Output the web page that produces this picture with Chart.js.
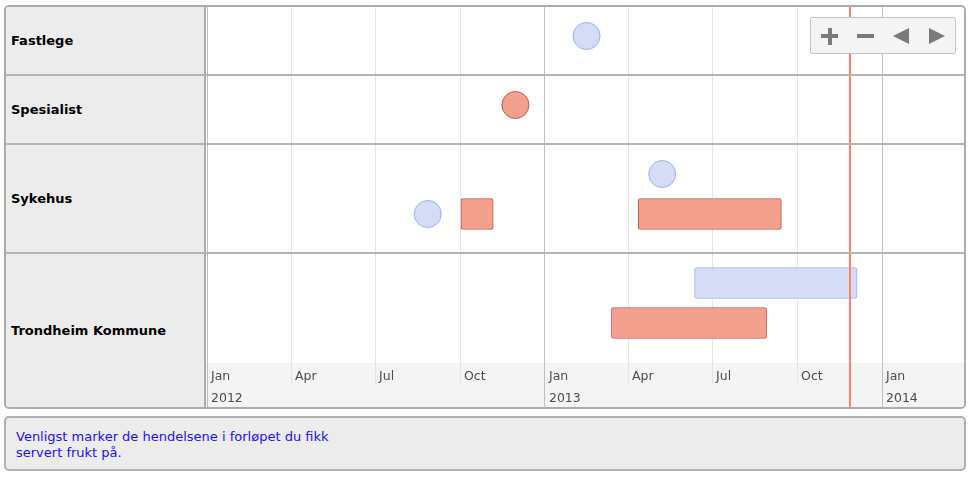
<!DOCTYPE html>
<html><head><meta charset="utf-8">
<script src="https://cdn.jsdelivr.net/npm/chart.js@4.4.1/dist/chart.umd.min.js"></script>
<style>
html,body{margin:0;padding:0;background:#fff;}
body{width:973px;height:478px;position:relative;overflow:hidden;font-family:"DejaVu Sans",Verdana,sans-serif;}
#tl{position:absolute;left:4px;top:5px;width:962px;height:404px;box-sizing:border-box;border:2px solid #acacac;border-radius:5px;background:#fff;overflow:hidden;}
#labels{position:absolute;left:0;top:0;width:198px;height:400px;background:#ececec;}
#vsep{position:absolute;left:198px;top:0;width:2px;height:400px;background:#acacac;}
#cv{position:absolute;left:200px;top:0;}
.rowline{position:absolute;left:0;width:958px;height:2px;background:#b4b4b4;z-index:2;}
.glabel{position:absolute;left:5px;font-weight:bold;font-size:13px;color:#000;line-height:16px;transform:translateY(-50%);white-space:nowrap;}
#zoom{position:absolute;left:804px;top:10px;width:146px;height:37px;box-sizing:border-box;background:#f4f4f4;border:1px solid #c4c4c4;border-radius:2px;z-index:3;}
.ic{position:absolute;background:#7a7a7a;}
.tri{position:absolute;width:0;height:0;}
#note{position:absolute;left:4px;top:416px;width:962px;height:55px;box-sizing:border-box;border:2px solid #b0b0b0;border-radius:5px;background:#ececec;padding:11px 10px 0 10px;color:#2010ff;font-size:13px;line-height:16px;}
</style>
</head><body>
<div id="tl">
  <div id="labels"></div>
  <div id="vsep"></div>
  <canvas id="cv" width="758" height="400" style="width:758px;height:400px"></canvas>
  <div id="zoom">
    <div class="ic" style="left:10px;top:16px;width:17px;height:4px"></div>
    <div class="ic" style="left:16.5px;top:9.5px;width:4px;height:17px"></div>
    <div class="ic" style="left:46px;top:16px;width:17px;height:4px"></div>
    <div class="tri" style="left:82px;top:10px;border-top:8px solid transparent;border-bottom:8px solid transparent;border-right:16px solid #7a7a7a"></div>
    <div class="tri" style="left:118px;top:10px;border-top:8px solid transparent;border-bottom:8px solid transparent;border-left:16px solid #7a7a7a"></div>
  </div>
</div>
<div id="note">Venligst marker de hendelsene i forløpet du fikk<br>servert frukt på.</div>
<script>
// ---- data ----
const groups = ['Fastlege', 'Spesialist', 'Sykehus', 'Trondheim Kommune'];
const groupLanes = [1, 1, 2, 2];

// point events (circles)
const pointGroup = [0, 1, 2, 2];
const pointLane  = [0, 0, 1, 0];
const pointDate  = ['2013-02-15', '2012-11-30', '2012-08-27', '2013-05-08'];
const pointKind  = ['blue', 'red', 'blue', 'blue'];

// range events (boxes)
const rangeGroup = [2, 2, 3, 3];
const rangeLane  = [1, 1, 0, 1];
const rangeStart = ['2012-10-02', '2013-04-12', '2013-06-12', '2013-03-14'];
const rangeEnd   = ['2012-11-06', '2013-09-14', '2013-12-05', '2013-08-29'];
const rangeKind  = ['red', 'red', 'blue', 'red'];

// axis labels
const monthLabels = ['Jan', 'Apr', 'Jul', 'Oct'];
const yearLabels  = ['2012', '2013', '2014'];
const currentTime = '2013-11-27';
const viewStart = '2011-12-30T22:00:00Z';
const viewEnd   = '2014-03-30T19:00:00Z';

// ---- layout ----
const LANE = 40, ROWPAD = 29, BAND = 44, H = 400;
const rowTop = [];
let acc = 0;
groupLanes.forEach((n, i) => { rowTop.push(acc); acc += ROWPAD + LANE * n; });
const areaH = H - BAND;
const tl = document.getElementById('tl');
const labelsDiv = document.getElementById('labels');
groups.forEach((g, i) => {
  const top = rowTop[i];
  const bottom = i < groups.length - 1 ? rowTop[i + 1] - 2 : H;
  const d = document.createElement('div');
  d.className = 'glabel';
  d.style.top = ((top + bottom) / 2) + 'px';
  d.textContent = g;
  labelsDiv.appendChild(d);
  if (i < groups.length - 1) {
    const l = document.createElement('div');
    l.className = 'rowline';
    l.style.top = (rowTop[i + 1] - 2) + 'px';
    tl.appendChild(l);
  }
});
const laneY = (g, lane) => rowTop[g] + ROWPAD + lane * LANE;
const t = s => Date.parse(s);

const COL = {
  blue: { bg: '#d5ddf6', bd: '#97b0f8' },
  red:  { bg: '#f4a08f', bd: '#c2554a' }
};

function pts(kind) {
  return pointDate.map((d, i) => ({ d, i })).filter(o => pointKind[o.i] === kind)
    .map(o => ({ x: t(o.d), y: laneY(pointGroup[o.i], pointLane[o.i]) }));
}
function rngs(kind) {
  return rangeStart.map((s, i) => ({ s, i })).filter(o => rangeKind[o.i] === kind)
    .map(o => ({ x: [t(o.s), t(rangeEnd[o.i])], y: laneY(rangeGroup[o.i], rangeLane[o.i]) }));
}

const years = yearLabels.map(Number);
const quarterTicks = [];
years.forEach(y => monthLabels.forEach((m, q) => {
  const v = Date.UTC(y, q * 3, 1);
  if (v >= t(viewStart) && v <= t(viewEnd)) quarterTicks.push(v);
}));
const yearTicks = years.map(y => Date.UTC(y, 0, 1));
const isJan = v => new Date(v).getUTCMonth() === 0;

const tickFont = { family: 'DejaVu Sans', size: 12.5 };

const bandPlugin = {
  id: 'band',
  beforeDraw(chart) {
    const c = chart.ctx, a = chart.chartArea;
    c.save();
    c.fillStyle = '#f4f4f4';
    c.fillRect(a.left, a.bottom, a.right - a.left, chart.height - a.bottom);
    c.restore();
  }
};
const nowPlugin = {
  id: 'now',
  afterDatasetsDraw(chart) {
    const c = chart.ctx;
    const x = Math.round(chart.scales.x.getPixelForValue(t(currentTime)));
    c.save();
    c.fillStyle = '#ff7f6e';
    c.fillRect(x - 1, 0, 2, chart.height);
    c.restore();
  }
};

const barCommon = { type: 'bar', indexAxis: 'y', borderWidth: 1, borderRadius: 2, borderSkipped: false, barThickness: 31, grouped: false };
const ptCommon = { type: 'scatter', pointRadius: 13.5, pointHoverRadius: 13.5, borderWidth: 1 };

new Chart(document.getElementById('cv'), {
  type: 'scatter',
  data: {
    datasets: [
      Object.assign({ data: rngs('blue'), backgroundColor: COL.blue.bg, borderColor: COL.blue.bd }, barCommon),
      Object.assign({ data: rngs('red'), backgroundColor: COL.red.bg, borderColor: COL.red.bd }, barCommon),
      Object.assign({ data: pts('blue'), backgroundColor: COL.blue.bg, borderColor: COL.blue.bd }, ptCommon),
      Object.assign({ data: pts('red'), backgroundColor: COL.red.bg, borderColor: COL.red.bd }, ptCommon)
    ]
  },
  options: {
    responsive: false, animation: false, events: [],
    layout: { padding: 0, autoPadding: false },
    plugins: { legend: { display: false }, tooltip: { enabled: false } },
    scales: {
      x: {
        type: 'linear', position: 'bottom', min: t(viewStart), max: t(viewEnd), offset: false,
        border: { display: false },
        grid: {
          offset: false, drawOnChartArea: true, drawTicks: true, tickLength: 22, lineWidth: 1,
          color: c => (c.tick && isJan(c.tick.value)) ? '#bfbfbf' : '#e5e5e5',
          tickColor: c => (c.tick && isJan(c.tick.value)) ? '#bfbfbf' : '#e5e5e5'
        },
        ticks: {
          align: 'start', labelOffset: 4, padding: -15.5, autoSkip: false, maxRotation: 0, minRotation: 0,
          color: '#4d4d4d', font: tickFont,
          callback: v => monthLabels[new Date(v).getUTCMonth() / 3]
        },
        afterBuildTicks: s => { s.ticks = quarterTicks.map(v => ({ value: v })); },
        afterFit: s => { s.height = 22; }
      },
      x2: {
        type: 'linear', axis: 'x', position: 'bottom', min: t(viewStart), max: t(viewEnd), offset: false,
        border: { display: false },
        grid: { offset: false, drawOnChartArea: false, drawTicks: true, tickLength: 22, lineWidth: 1, tickColor: '#bfbfbf' },
        ticks: {
          align: 'start', labelOffset: 4, padding: -15.5, autoSkip: false, maxRotation: 0, minRotation: 0,
          color: '#4d4d4d', font: tickFont,
          callback: v => yearLabels[years.indexOf(new Date(v).getUTCFullYear())]
        },
        afterBuildTicks: s => { s.ticks = yearTicks.map(v => ({ value: v })); },
        afterFit: s => { s.height = 22; }
      },
      y: {
        type: 'linear', display: false, reverse: true, min: 0, max: areaH, offset: false,
        grid: { offset: false }
      }
    }
  },
  plugins: [bandPlugin, nowPlugin]
});
</script>
</body></html>
